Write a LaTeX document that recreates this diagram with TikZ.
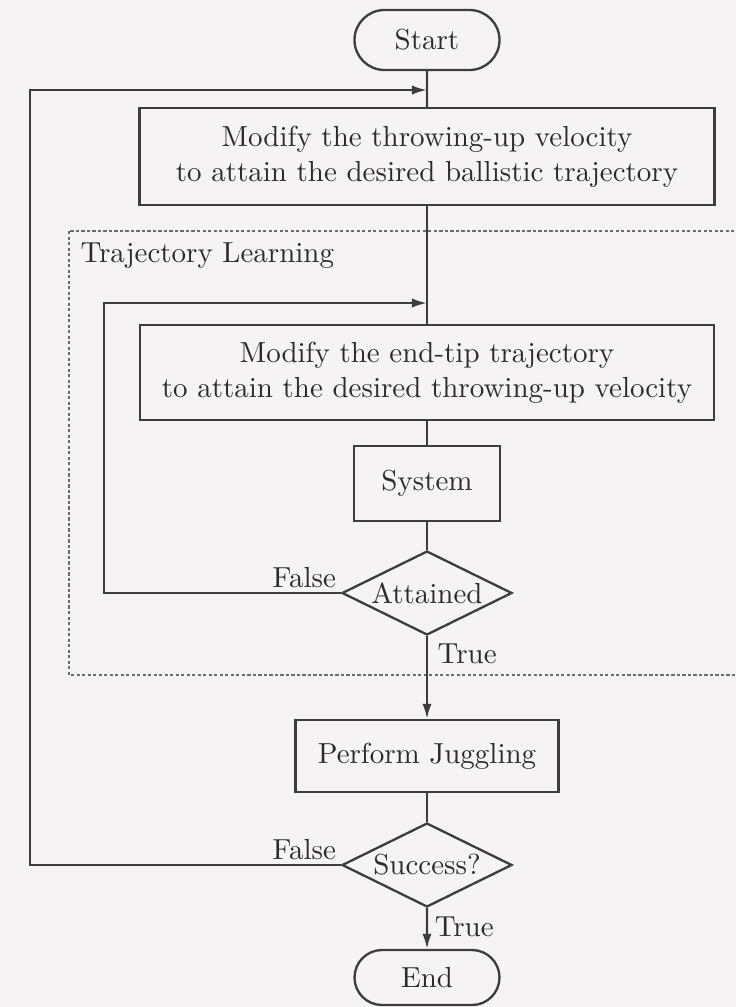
\documentclass[tikz,border=0pt]{standalone}
\usetikzlibrary{shapes.geometric,shapes.misc,arrows.meta}
\newdimen\pxu \pxu=0.345pt
\definecolor{bg}{RGB}{246,243,244}
\definecolor{ink}{RGB}{62,60,62}
\definecolor{txt}{RGB}{45,42,44}
\definecolor{dashc}{RGB}{110,106,110}
\tikzset{
  box/.style={draw=ink, line width=0.8pt, rectangle, inner sep=0pt, align=center, text=txt},
  term/.style={draw=ink, line width=0.8pt, rounded rectangle, inner sep=0pt, text=txt},
  dec/.style={draw=ink, line width=0.8pt, diamond, aspect=2, inner sep=0pt, text=txt,
              minimum width=170*\pxu, minimum height=84*\pxu},
  conn/.style={draw=ink, line width=0.8pt},
  arr/.style={conn, -{Latex[length=5.2pt,width=3.2pt]}},
  lbl/.style={text=txt, inner sep=0pt},
  dashbox/.style={draw=dashc, line width=0.45pt, dash pattern=on 1.1pt off 0.8pt}
}
\begin{document}
\begin{tikzpicture}[x=0.345pt,y=-0.345pt]
\fill[bg] (0,0) rectangle (736,1007);
\useasboundingbox (0,0) rectangle (736,1007);

% trajectory learning frame
\draw[dashbox] (69,231) rectangle (770,675);
\node[lbl, anchor=base west] (tl) at (80,262) {Trajectory Learning};

% nodes
\node[term, minimum width=145*\pxu, minimum height=60*\pxu] (start) at (427,40) {Start};
\node[box, minimum width=575*\pxu, minimum height=97*\pxu] (m1) at (427,156.5)
  {Modify the throwing-up velocity\\to attain the desired ballistic trajectory};
\node[box, minimum width=574*\pxu, minimum height=95*\pxu] (m2) at (427,372.5)
  {Modify the end-tip trajectory\\to attain the desired throwing-up velocity};
\node[box, minimum width=146*\pxu, minimum height=75*\pxu] (sys) at (427,483.5) {System};
\node[dec] (att) at (427,593) {Attained};
\node[box, minimum width=263*\pxu, minimum height=72*\pxu] (perf) at (427,756) {Perform Juggling};
\node[dec] (succ) at (427,865) {Success?};
\node[term, minimum width=145*\pxu, minimum height=55*\pxu] (end) at (427,977.5) {End};

% main flow
\draw[conn] (start) -- (m1);
\draw[conn] (m1) -- (m2);
\draw[conn] (m2) -- (sys);
\draw[conn] (sys) -- (att);
\draw[arr] (att) -- (perf);
\draw[conn] (perf) -- (succ);
\draw[arr] (succ) -- (end);

% loops
\coordinate (oL) at (30,90);
\coordinate (j1) at (427,90);
\draw[arr] (succ.west) -| (oL) -- (j1);
\coordinate (iL) at (104,303);
\coordinate (j2) at (427,303);
\draw[arr] (att.west) -| (iL) -- (j2);

% labels
\node[lbl, anchor=south east] (f1) at ([xshift=-1.5pt,yshift=1.5pt]att.west) {False};
\node[lbl, anchor=north west] (t1) at ([xshift=3.5pt,yshift=-2.5pt]att.south) {True};
\node[lbl, anchor=south east] (f2) at ([xshift=-1.5pt,yshift=1.5pt]succ.west) {False};
\node[lbl, anchor=north west] (t2) at ([xshift=2.5pt,yshift=-2.7pt]succ.south) {True};
\end{tikzpicture}
\end{document}
